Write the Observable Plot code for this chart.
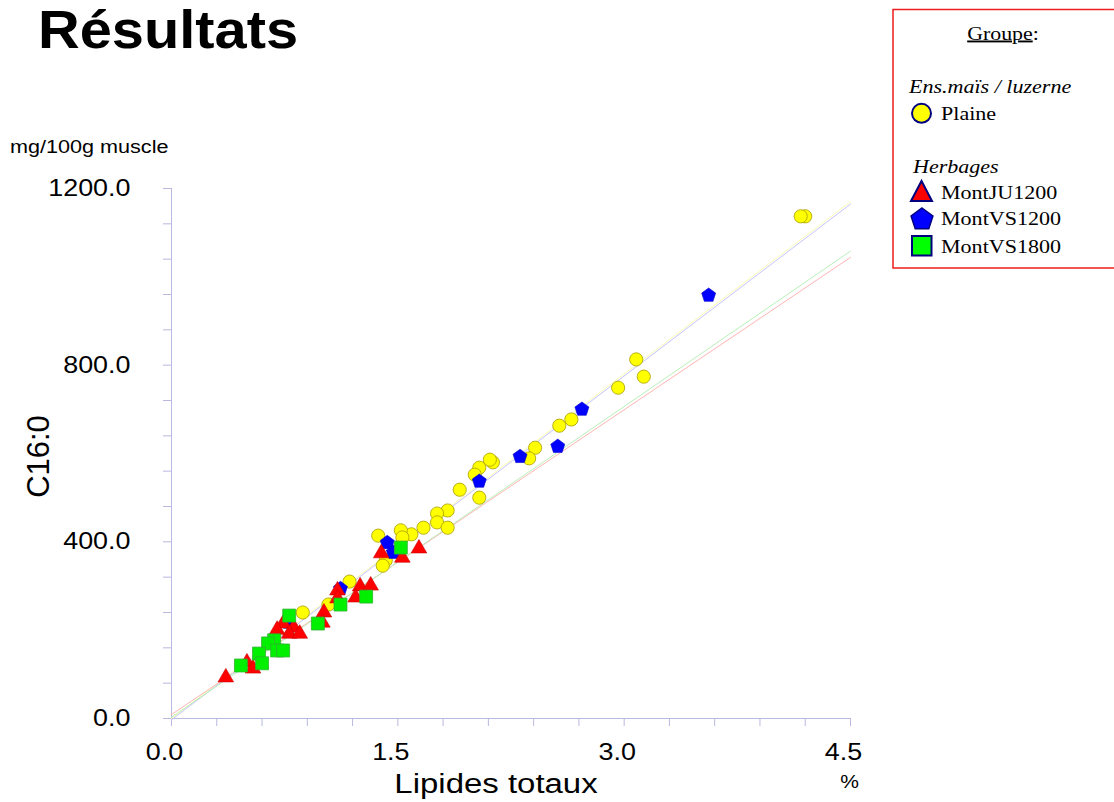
<!DOCTYPE html>
<html><head><meta charset="utf-8">
<script src="https://cdn.jsdelivr.net/npm/d3@7"></script>
<script src="https://cdn.jsdelivr.net/npm/@observablehq/plot@0.6"></script>
<style>
body{margin:0;background:#fff;}
#wrap{position:relative;width:1114px;height:802px;overflow:hidden;background:#fff;}
#chart{position:absolute;left:0;top:0;}
#overlay{position:absolute;left:0;top:0;pointer-events:none;}
</style></head>
<body><div id="wrap"><div id="chart"></div><svg id="overlay" width="1114" height="802"></svg></div>
<script>
// ---- data ----
const groups = ["Plaine", "MontJU1200", "MontVS1200", "MontVS1800"];

const plaineX = [4.20,4.17,3.08,3.13,2.96,2.65,2.57,2.41,2.37,2.13,2.11,2.04,2.01,1.91,2.04,1.83,1.76,1.76,1.83,1.67,1.59,1.52,1.53,1.37,1.42,1.40,1.18,0.87,1.04];
const plaineY = [1137,1137,813,774,749,677,663,613,589,580,586,568,552,518,500,471,464,444,432,432,417,426,410,414,358,346,310,240,258];

const montJU1200X = [1.64,1.39,1.53,1.25,1.32,1.22,1.10,1.10,1.01,1.00,0.74,0.81,0.78,0.85,0.70,0.50,0.54,0.36];
const montJU1200Y = [385,374,364,299,301,274,290,272,240,217,215,206,192,192,201,127,113,93];

const montVS1200X = [3.56,2.72,2.56,2.31,2.04,1.43,1.47,1.12,0.77];
const montVS1200Y = [958,700,616,593,537,398,376,294,218];

const montVS1800X = [1.52,1.29,1.12,0.97,0.78,0.68,0.64,0.70,0.74,0.58,0.60,0.46];
const montVS1800Y = [387,276,258,215,233,177,170,154,154,147,125,120];

// regression lines per group (same order as groups)
const intercepts = [0, 9, -3, 3];
const slopes = [260, 230, 259.5, 234.5];

const xDomain = [0, 4.5];
const yDomain = [0, 1200];
const xTickLabels = [0, 1.5, 3.0, 4.5];
const yTickLabels = [0, 400, 800, 1200];
const xMinorStep = 0.3;
const yMinorStep = 80;

// ---- build tables ----
const pts = (xs, ys) => xs.map((x, i) => ({x, y: ys[i]}));
const plaine = pts(plaineX, plaineY);
const ju1200 = pts(montJU1200X, montJU1200Y);
const vs1200 = pts(montVS1200X, montVS1200Y);
const vs1800 = pts(montVS1800X, montVS1800Y);
const lineData = groups.flatMap((g, i) => xDomain.map(x => ({group: g, x, y: intercepts[i] + slopes[i] * x})));
const xMinor = d3.range(0, 15 + 1).map(i => +(i * xMinorStep).toFixed(2));
const yMinor = d3.range(0, 15 + 1).map(i => i * yMinorStep);

const axisColor = "#b8b8e0";
const lineColors = ["#fbfbb0", "#ffb4b4", "#c4c4ff", "#b8f0b8"];

const pentagon = {
  draw(ctx, size) {
    const R = Math.sqrt(size / (2.5 * Math.sin(2 * Math.PI / 5)));
    for (let i = 0; i < 5; i++) {
      const a = -Math.PI / 2 + i * 2 * Math.PI / 5;
      const px = R * Math.cos(a), py = R * Math.sin(a);
      if (i) ctx.lineTo(px, py); else ctx.moveTo(px, py);
    }
    ctx.closePath();
  }
};

const chart = Plot.plot({
  width: 1114, height: 802,
  marginLeft: 171, marginRight: 264, marginTop: 188, marginBottom: 84,
  style: {fontFamily: "'Liberation Sans', Arial, sans-serif", background: "transparent", color: "#000"},
  x: {domain: xDomain},
  y: {domain: yDomain},
  color: {domain: groups, range: lineColors},
  marks: [
    Plot.ruleY([0], {stroke: axisColor}),
    Plot.ruleX([0], {stroke: axisColor}),
    Plot.axisX({ticks: xMinor, tickSize: 8, tickFormat: () => "", stroke: axisColor, label: null}),
    Plot.axisY({ticks: yMinor, tickSize: 8, tickFormat: () => "", stroke: axisColor, label: null}),
    Plot.axisX({ticks: xTickLabels, tickSize: 0, tickPadding: 25, tickFormat: d => d.toFixed(1), fontSize: 23, dx: -7, label: null}),
    Plot.axisY({ticks: yTickLabels, tickSize: 0, tickPadding: 41, tickFormat: d => d.toFixed(1), fontSize: 23, label: null}),
    Plot.line(lineData, {x: "x", y: "y", z: "group", stroke: "group", strokeWidth: 1}),
    Plot.dot(plaine, {x: "x", y: "y", r: 6.6, fill: "#ffff00", stroke: "#a89c00", strokeWidth: 0.8}),
    Plot.dot(vs1200, {x: "x", y: "y", symbol: pentagon, r: 6.4, fill: "#0000ff", stroke: "#0000c8", strokeWidth: 0.6}),
    Plot.dot(ju1200, {x: "x", y: "y", symbol: "triangle", r: 5.8, fill: "#ff0000", stroke: "#c80000", strokeWidth: 0.6}),
    Plot.dot(vs1800, {x: "x", y: "y", symbol: "square", r: 7.3, fill: "#00f000", stroke: "#30b030", strokeWidth: 0.8}),
    Plot.text(["Lipides totaux"], {text: d => d, frameAnchor: "bottom", textAnchor: "middle", dx: -15, dy: 74, fontSize: 27}),
    Plot.text(["%"], {text: d => d, frameAnchor: "bottom-right", textAnchor: "middle", dx: -1, dy: 69, fontSize: 18}),
    Plot.text(["C16:0"], {text: d => d, frameAnchor: "left", textAnchor: "middle", dx: -132, dy: 3, rotate: -90, fontSize: 31})
  ]
});
document.getElementById("chart").appendChild(chart);

function stretch(el, f) {
  const len = el.getComputedTextLength();
  if (len > 0) {
    el.setAttribute("textLength", (len * f).toFixed(1));
    el.setAttribute("lengthAdjust", "spacingAndGlyphs");
  }
}
chart.querySelectorAll("text").forEach(t => {
  if (t.textContent === "C16:0") return;
  stretch(t, t.textContent === "Lipides totaux" ? 1.22 : 1.17);
});

// ---- overlay: title, unit, legend ----
const ov = d3.select("#overlay");
const sans = "'Liberation Sans', Arial, sans-serif";
const serif = "'Liberation Serif', 'Times New Roman', serif";
const title = ov.append("text").attr("x", 38).attr("y", 48).attr("font-family", sans)
  .attr("font-weight", "bold").attr("font-size", 54).text("Résultats");
stretch(title.node(), 1.07);
const unit = ov.append("text").attr("x", 10).attr("y", 153).attr("font-family", sans)
  .attr("font-size", 18).text("mg/100g muscle");
stretch(unit.node(), 1.2);

const lg = ov.append("g");
lg.append("rect").attr("x", 893).attr("y", 9.5).attr("width", 222).attr("height", 258.5)
  .attr("fill", "#fff").attr("stroke", "#ee1c1c").attr("stroke-width", 1.5);
const gt = lg.append("text").attr("x", 1003).attr("y", 39.5).attr("text-anchor", "middle")
  .attr("font-family", serif).attr("font-size", 19);
gt.append("tspan").attr("text-decoration", "underline").text("Groupe");
gt.append("tspan").text(":");
stretch(gt.node(), 1.15);

const legendTexts = [
  {t: "Ens.maïs / luzerne", x: 909, y: 93, italic: true},
  {t: "Plaine", x: 941, y: 119.5},
  {t: "Herbages", x: 913, y: 172.5, italic: true},
  {t: "MontJU1200", x: 941, y: 199},
  {t: "MontVS1200", x: 941, y: 225},
  {t: "MontVS1800", x: 941, y: 252.5}
];
legendTexts.forEach(d => {
  const e = lg.append("text").attr("x", d.x).attr("y", d.y).attr("font-family", serif)
    .attr("font-size", 19).attr("font-style", d.italic ? "italic" : "normal").text(d.t);
  stretch(e.node(), 1.16);
});
const navy = "#000080";
lg.append("circle").attr("cx", 921.5).attr("cy", 113.3).attr("r", 9.5)
  .attr("fill", "#ffff00").attr("stroke", navy).attr("stroke-width", 2);
lg.append("path").attr("d", "M921.5,181 L911,201 L932,201 Z")
  .attr("fill", "#ff0000").attr("stroke", navy).attr("stroke-width", 2);
const pent = d3.range(5).map(i => {
  const a = -Math.PI / 2 + i * 2 * Math.PI / 5;
  return [922 + 11.5 * Math.cos(a), 219.5 + 11.5 * Math.sin(a)];
});
lg.append("path").attr("d", "M" + pent.map(p => p.join(",")).join("L") + "Z")
  .attr("fill", "#0000ff").attr("stroke", navy).attr("stroke-width", 1.5);
lg.append("rect").attr("x", 912).attr("y", 236).attr("width", 19.5).attr("height", 19.5)
  .attr("fill", "#00ff00").attr("stroke", navy).attr("stroke-width", 2);
</script>
</body></html>
